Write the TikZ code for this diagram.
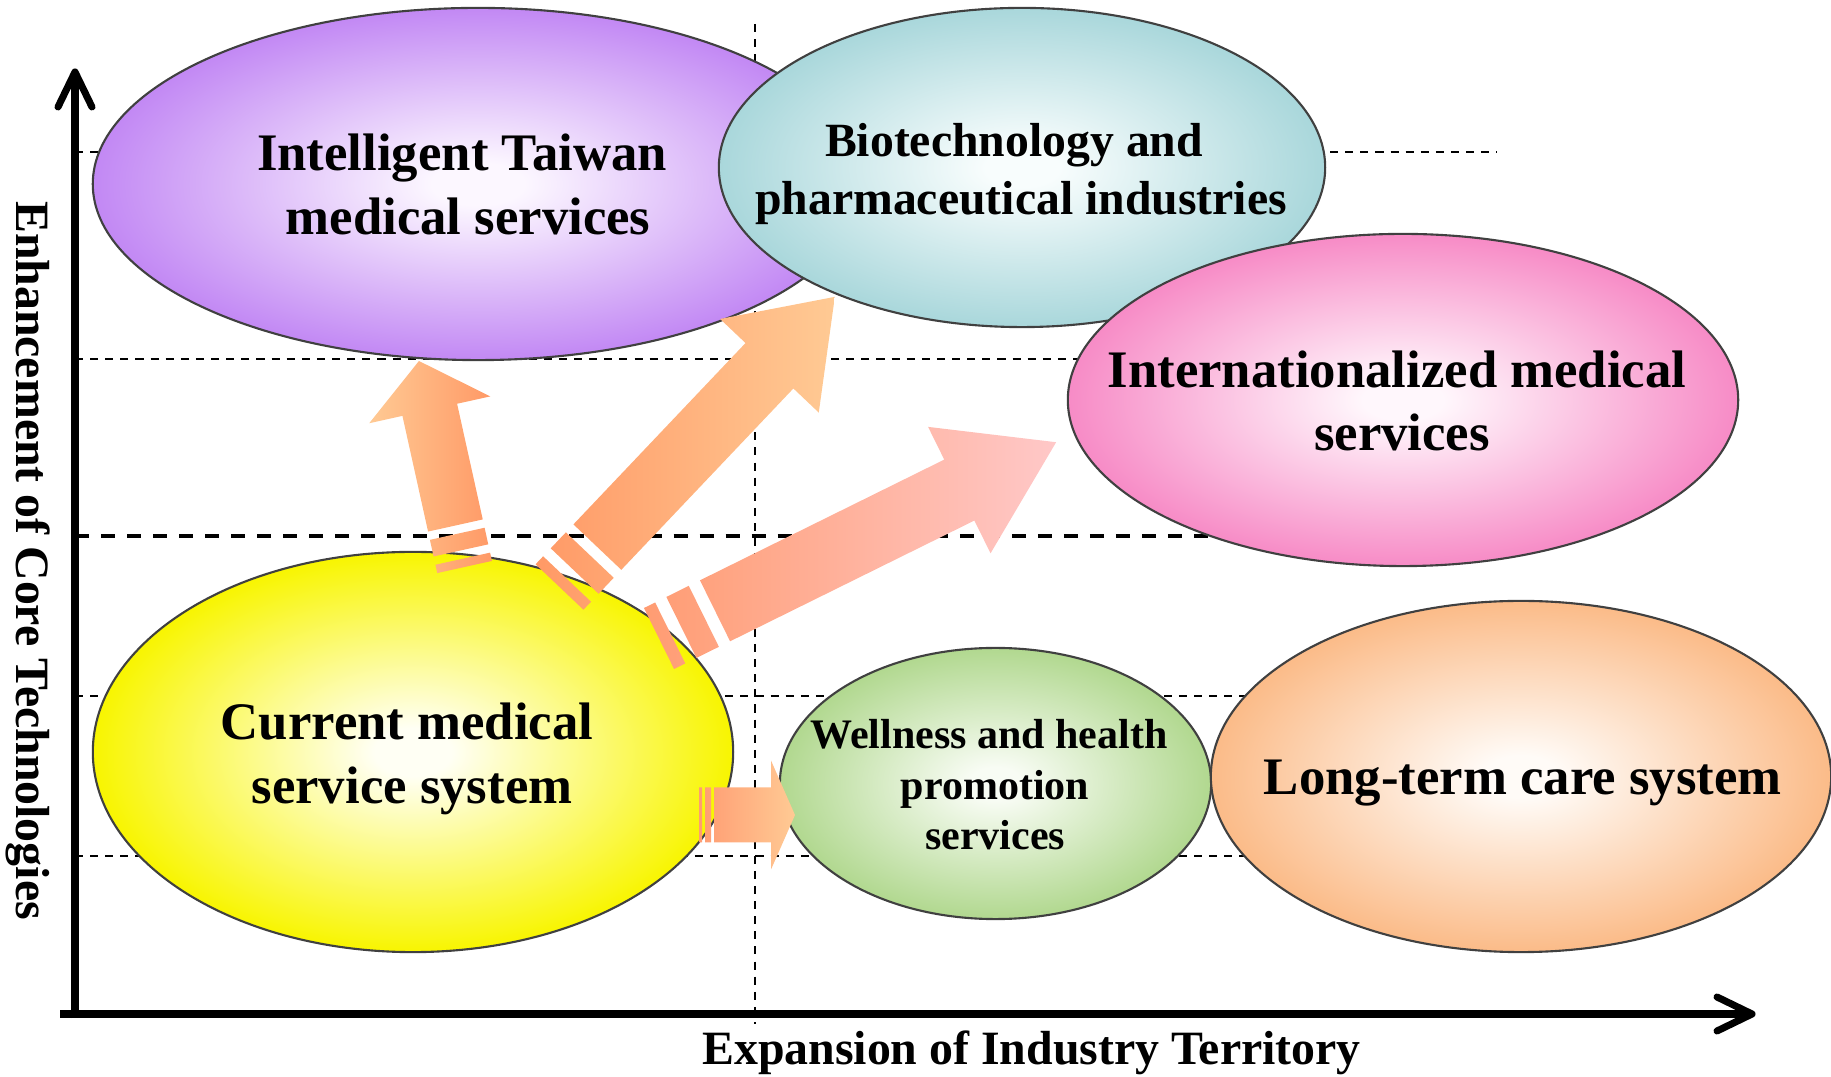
\documentclass[tikz,border=0pt]{standalone}
\usepackage{fontspec}
\setmainfont{Liberation Serif}
\usetikzlibrary{shapes.geometric}

\definecolor{purpleOut}{HTML}{C288F4}
\definecolor{purpleIn}{HTML}{FCF7FF}
\definecolor{tealOut}{HTML}{A9D7DB}
\definecolor{tealIn}{HTML}{F8FDFD}
\definecolor{pinkOut}{HTML}{F78BC6}
\definecolor{pinkIn}{HTML}{FFF7FC}
\definecolor{yellowOut}{HTML}{F8F500}
\definecolor{yellowIn}{HTML}{FFFFF4}
\definecolor{greenOut}{HTML}{B1D88F}
\definecolor{greenIn}{HTML}{F8FCF4}
\definecolor{peachOut}{HTML}{FBBB88}
\definecolor{peachIn}{HTML}{FFFBF7}
\definecolor{salmon}{HTML}{FF9966}
\definecolor{peachArrow}{HTML}{FFCA94}
\definecolor{pinkArrow}{HTML}{FFC8C8}
\definecolor{salmonC}{HTML}{FF9C72}

\pgfdeclareradialshading{shPurple}{\pgfpoint{0bp}{0bp}}{color(0bp)=(purpleIn); color(3bp)=(purpleIn); color(25bp)=(purpleOut); color(50bp)=(purpleOut)}
\pgfdeclareradialshading{shTeal}{\pgfpoint{0bp}{0bp}}{color(0bp)=(tealIn); color(3bp)=(tealIn); color(25bp)=(tealOut); color(50bp)=(tealOut)}
\pgfdeclareradialshading{shPink}{\pgfpoint{0bp}{0bp}}{color(0bp)=(pinkIn); color(3bp)=(pinkIn); color(25bp)=(pinkOut); color(50bp)=(pinkOut)}
\pgfdeclareradialshading{shYellow}{\pgfpoint{0bp}{0bp}}{color(0bp)=(yellowIn); color(3bp)=(yellowIn); color(25bp)=(yellowOut); color(50bp)=(yellowOut)}
\pgfdeclareradialshading{shGreen}{\pgfpoint{0bp}{0bp}}{color(0bp)=(greenIn); color(3bp)=(greenIn); color(25bp)=(greenOut); color(50bp)=(greenOut)}
\pgfdeclareradialshading{shPeach}{\pgfpoint{0bp}{0bp}}{color(0bp)=(peachIn); color(3bp)=(peachIn); color(25bp)=(peachOut); color(50bp)=(peachOut)}

\tikzset{
  ell/.style={ellipse, inner sep=0pt, draw=black!75, line width=0.6pt, shade},
  dashthin/.style={line width=0.5pt, dash pattern=on 2.3pt off 2pt},
  dashthick/.style={line width=1.15pt, dash pattern=on 4pt off 3.4pt},
  axisline/.style={line width=2pt},
  axishead/.style={line width=2pt, line cap=round, line join=round},
  txtbig/.style={anchor=base, inner sep=0pt, font=\fontsize{15pt}{18pt}\selectfont\bfseries},
  txtmid/.style={anchor=base, inner sep=0pt, font=\fontsize{13.57pt}{16pt}\selectfont\bfseries},
  txtsmall/.style={anchor=base, inner sep=0pt, font=\fontsize{11.95pt}{14pt}\selectfont\bfseries},
  txtaxis/.style={anchor=base, inner sep=0pt, font=\fontsize{13.6pt}{16pt}\selectfont\bfseries},
}

\begin{document}
\begin{tikzpicture}[x=0.01cm, y=-0.01cm]
\useasboundingbox (0,0) rectangle (1831,1077);
\clip (0,0) rectangle (1831,1077);

% grid lines
\coordinate (vTop) at (755,24);
\coordinate (vBot) at (755,1024);
\draw[dashthin] (vTop) -- (vBot);
\coordinate (h1a) at (75,152);   \coordinate (h1b) at (1497,152);
\coordinate (h2a) at (75,359);   \coordinate (h2b) at (1100,359);
\coordinate (h3a) at (75,536);   \coordinate (h3b) at (1250,536);
\coordinate (h4a) at (75,696);   \coordinate (h4b) at (1250,696);
\coordinate (h5a) at (75,856);   \coordinate (h5b) at (1250,856);
\draw[dashthin] (h1a) -- (h1b);
\draw[dashthin] (h2a) -- (h2b);
\draw[dashthick] (h3a) -- (h3b);
\draw[dashthin] (h4a) -- (h4b);
\draw[dashthin] (h5a) -- (h5b);

% ellipses
\node[ell, shading=shPurple, minimum width=7.70cm, minimum height=3.52cm] (purple) at (478,184) {};
\node[ell, shading=shTeal, minimum width=6.06cm, minimum height=3.19cm] (teal) at (1022,167.5) {};
\node[ell, shading=shPink, minimum width=6.70cm, minimum height=3.32cm] (pink) at (1403,400) {};
\node[ell, shading=shYellow, minimum width=6.40cm, minimum height=4.00cm] (yellow) at (413,752) {};
\node[ell, shading=shGreen, minimum width=4.31cm, minimum height=2.71cm] (green) at (995.5,783.5) {};
\node[ell, shading=shPeach, minimum width=6.20cm, minimum height=3.51cm] (peach) at (1521,776.5) {};

% axes
\coordinate (xStart) at (60,1014);
\coordinate (xEnd) at (1750,1014);
\coordinate (xTip) at (1752,1014);
\coordinate (yStart) at (75,1018);
\coordinate (yEnd) at (75,74);
\coordinate (yTip) at (75,72);
\draw[axisline] (xStart) -- (xEnd);
\draw[axisline] (yStart) -- (yEnd);
\draw[axishead] (58,107) -- (yTip) -- (92,107);
\draw[axishead] (1717,997) -- (xTip) -- (1717,1031);

% block arrows
\coordinate (tailA) at (464.6,567);
\coordinate (tailB) at (559.5,587);
\coordinate (tailC) at (659,638.5);
\coordinate (tailD) at (699,815);

\begin{scope}[shift={(tailA)}, rotate=102.5]
  \shade[left color=peachArrow, right color=salmon]
    (0,-28) rectangle (8.5,28)
    (17,-28) rectangle (34,28)
    (42.5,-28) -- (161,-28) -- (161,-62) -- (211,0) -- (161,62) -- (161,28) -- (42.5,28) -- cycle;
\end{scope}

\begin{scope}[shift={(tailB)}, rotate=46.5]
  \shade[left color=salmon, right color=peachArrow]
    (0,-33) rectangle (11,33)
    (22,-33) rectangle (44,33)
    (55,-33) -- (305,-33) -- (305,-68) -- (400,0) -- (305,68) -- (305,33) -- (55,33) -- cycle;
\end{scope}

\begin{scope}[shift={(tailC)}, rotate=26.3]
  \shade[left color=salmonC, right color=pinkArrow]
    (0,-34) rectangle (12.5,34)
    (25,-34) rectangle (50,34)
    (62.5,-34) -- (335,-34) -- (335,-70.5) -- (443,0) -- (335,70.5) -- (335,34) -- (62.5,34) -- cycle;
\end{scope}

\begin{scope}[shift={(tailD)}]
  \shade[left color=salmonC, right color=peachArrow]
    (0,-27.5) rectangle (3,27.5)
    (6,-27.5) rectangle (12,27.5)
    (15,-27.5) -- (72,-27.5) -- (72,-54.5) -- (96,0) -- (72,54.5) -- (72,27.5) -- (15,27.5) -- cycle;
\end{scope}

% texts
\node[txtbig] (tPurple1) at (462,171) {Intelligent Taiwan};
\node[txtbig] (tPurple2) at (468,235) {medical services};
\node[txtmid] (tTeal1) at (1014,157) {Biotechnology and};
\node[txtmid] (tTeal2) at (1021,215) {pharmaceutical industries};
\node[txtbig] (tPink1) at (1397,388) {Internationalized medical};
\node[txtbig] (tPink2) at (1402,451) {services};
\node[txtbig] (tYellow1) at (407,740) {Current medical};
\node[txtbig] (tYellow2) at (412,804) {service system};
\node[txtsmall] (tGreen1) at (989,749) {Wellness and health};
\node[txtsmall] (tGreen2) at (995,800) {promotion};
\node[txtsmall] (tGreen3) at (995,850) {services};
\node[txtbig] (tPeach) at (1522.7,795) {Long-term care system};

\node[txtaxis] (xLabel) at (1031.5,1064) {Expansion of Industry Territory};
\node[txtaxis, rotate=-90] (yLabel) at (17,560.5) {Enhancement of Core Technologies};
\end{tikzpicture}
\end{document}
